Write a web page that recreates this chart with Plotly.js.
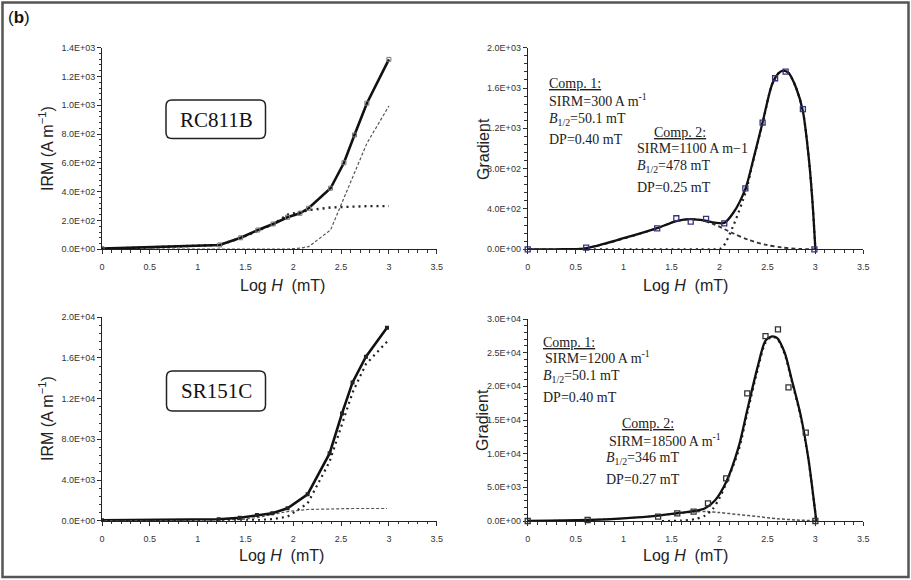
<!DOCTYPE html>
<html>
<head>
<meta charset="utf-8">
<script src="https://cdn.plot.ly/plotly-3.0.1.min.js"></script>
<style>html,body{margin:0;padding:0;background:#fff;}#chart{width:911px;height:580px;}</style>
</head>
<body>
<div id="chart"></div>
<script>
// ---------- DATA ----------
// x ticks (Log H, mT)
const xTickVals = [0, 0.5, 1, 1.5, 2, 2.5, 3, 3.5];
const xTickText = ["0", "0.5", "1", "1.5", "2", "2.5", "3", "3.5"];

// Panel 1: RC811B IRM acquisition
const p1X = [0, 1.23, 1.45, 1.63, 1.79, 1.94, 2.07, 2.16, 2.39, 2.53, 2.64, 2.77, 3.0];
const p1IRM = [5, 30, 80, 134, 176, 222, 250, 285, 424, 601, 794, 1014, 1319];
const p1Comp1 = [3, 30, 78, 130, 175, 240, 262, 272, 290, 295, 298, 300, 300];
const p1Comp2 = [0, 0, 0, 0, 0, 2, 8, 18, 134, 356, 530, 736, 995];
const p1YTickVals = [0, 200, 400, 600, 800, 1000, 1200, 1400];
const p1YTickText = ["0.0E+00", "2.0E+02", "4.0E+02", "6.0E+02", "8.0E+02", "1.0E+03", "1.2E+03", "1.4E+03"];

// Panel 2: RC811B gradient
const p2X = [0, 0.61, 1.35, 1.55, 1.70, 1.86, 2.05, 2.27, 2.45, 2.58, 2.69, 2.87, 2.99];
const p2Grad = [0, 16, 208, 308, 274, 301, 258, 605, 1257, 1697, 1763, 1390, 0];
const p2FitX = [0, 0.3, 0.6, 1.0, 1.35, 1.55, 1.7, 1.85, 1.95, 2.05, 2.15, 2.27, 2.35, 2.45, 2.55, 2.62, 2.665, 2.72, 2.8, 2.87, 2.93, 2.97, 3.0];
const p2Fit = [0, 0, 10, 110, 210, 280, 300, 285, 265, 262, 370, 600, 880, 1260, 1640, 1750, 1772, 1750, 1600, 1370, 920, 470, 0];
const p2C1X = [0, 0.3, 0.6, 1.0, 1.35, 1.55, 1.7, 1.8, 1.95, 2.14, 2.3, 2.49, 2.65, 2.84, 3.0];
const p2C1 = [0, 0, 10, 105, 210, 280, 300, 291, 245, 159, 95, 43, 18, 4, 0];
const p2C2X = [0.5, 1.0, 1.5, 1.8, 1.9, 2.02, 2.14, 2.28, 2.35, 2.45, 2.55, 2.62, 2.665, 2.72, 2.8, 2.87, 2.93, 2.97, 3.0];
const p2C2 = [0, 0, 0, 0, 0, 10, 225, 590, 870, 1250, 1640, 1750, 1772, 1750, 1600, 1370, 920, 470, 0];
const p2YTickVals = [0, 400, 800, 1200, 1600, 2000];
const p2YTickText = ["0.0E+00", "4.0E+02", "8.0E+02", "1.2E+03", "1.6E+03", "2.0E+03"];

// Panel 3: SR151C IRM acquisition
const p3X = [0, 1.22, 1.44, 1.62, 1.78, 1.94, 2.15, 2.38, 2.51, 2.62, 2.76, 2.98];
const p3IRM = [50, 140, 295, 560, 727, 1220, 2594, 6620, 10550, 13600, 16120, 18970];
const p3Comp1 = [0, 30, 100, 300, 600, 900, 1100, 1180, 1195, 1200, 1200, 1200];
const p3Comp2 = [0, 0, 20, 50, 150, 400, 1700, 5800, 9500, 12600, 15400, 17600];
const p3YTickVals = [0, 4000, 8000, 12000, 16000, 20000];
const p3YTickText = ["0.0E+00", "4.0E+03", "8.0E+03", "1.2E+04", "1.6E+04", "2.0E+04"];

// Panel 4: SR151C gradient
const p4X = [0, 0.625, 1.36, 1.56, 1.73, 1.88, 2.07, 2.29, 2.48, 2.61, 2.72, 2.90, 3.0];
const p4Grad = [0, 150, 640, 1140, 1390, 2630, 6340, 18960, 27470, 28460, 19850, 13120, 0];
const p4FitX = [0, 0.625, 1.0, 1.36, 1.56, 1.73, 1.85, 1.95, 2.07, 2.2, 2.29, 2.4, 2.48, 2.54, 2.6, 2.68, 2.75, 2.85, 2.93, 2.98, 3.01];
const p4Fit = [0, 150, 400, 800, 1150, 1450, 1900, 3000, 5800, 11000, 16500, 23000, 26800, 27400, 27200, 25000, 21200, 15500, 9000, 3500, 0];
const p4C1X = [0, 0.625, 1.0, 1.36, 1.56, 1.73, 1.87, 2.0, 2.2, 2.4, 2.6, 2.8, 3.0];
const p4C1 = [0, 150, 400, 780, 1100, 1350, 1400, 1250, 950, 650, 350, 150, 50];
const p4C2X = [1.4, 1.6, 1.75, 1.85, 1.93, 2.0, 2.07, 2.2, 2.29, 2.4, 2.48, 2.54, 2.6, 2.68, 2.75, 2.85, 2.93, 2.98, 3.01];
const p4C2 = [0, 50, 300, 800, 1800, 3400, 5600, 10500, 16000, 22600, 26500, 27300, 27100, 24800, 21000, 15300, 8900, 3400, 0];
const p4YTickVals = [0, 5000, 10000, 15000, 20000, 25000, 30000];
const p4YTickText = ["0.0E+00", "5.0E+03", "1.0E+04", "1.5E+04", "2.0E+04", "2.5E+04", "3.0E+04"];

// ---------- LAYOUT HELPERS ----------
const W = 911, H = 580;
const fx = v => v / W;
const fy = v => 1 - v / H;
const serif = "Liberation Serif, Times New Roman, serif";
const sans = "Liberation Sans, Arial, sans-serif";

function alias(vals, text, fmt) {
  const o = {};
  vals.forEach((v, i) => { o[fmt(v)] = text[i]; });
  return o;
}

function xAxis(domain) {
  return {
    domain: domain, range: [0, 3.5], showline: true, linecolor: '#222', linewidth: 1,
    ticks: 'outside', ticklen: 4, tickcolor: '#222',
    tickmode: 'linear', tick0: xTickVals[0], dtick: xTickVals[1] - xTickVals[0],
    labelalias: alias(xTickVals, xTickText, v => String(v)),
    tickfont: {family: sans, size: 9, color: '#333'}, ticklabelstandoff: 5,
    showgrid: false, zeroline: false, fixedrange: true
  };
}
function yAxis(domain, range, vals, text) {
  return {
    domain: domain, range: range, showline: true, linecolor: '#222', linewidth: 1,
    ticks: 'outside', ticklen: 4, tickcolor: '#222',
    tickmode: 'linear', tick0: vals[0], dtick: vals[1] - vals[0],
    tickformat: 'd', separatethousands: false,
    labelalias: alias(vals, text, v => String(v)),
    tickfont: {family: sans, size: 9, color: '#333'},
    showgrid: false, zeroline: false, fixedrange: true
  };
}
// overlay axes that carry only the minor tick marks
function minorAxis(domain, range, dt, over, anchor) {
  return {
    domain: domain, range: range, overlaying: over, anchor: anchor,
    tickmode: 'linear', tick0: 0, dtick: dt, ticks: 'outside', ticklen: 2.5, tickwidth: 1, tickcolor: '#333',
    showticklabels: false, showline: false, showgrid: false, zeroline: false, fixedrange: true
  };
}

const solid = {color: '#111', width: 2.6};
const traces = [
  // Panel 1
  {x: p1X, y: p1Comp2, xaxis: 'x', yaxis: 'y', mode: 'lines', line: {color: '#555', width: 1.2, dash: '3px,2px'}},
  {x: p1X, y: p1Comp1, xaxis: 'x', yaxis: 'y', mode: 'lines', line: {color: '#222', width: 2.4, dash: '2px,4px'}},
  {x: p1X, y: p1IRM, xaxis: 'x', yaxis: 'y', mode: 'lines+markers', line: solid,
   marker: {symbol: 'square-open', size: 4, color: '#777', line: {width: 1}}},
  // Panel 2
  {x: p2C1X, y: p2C1, xaxis: 'x2', yaxis: 'y2', mode: 'lines', line: {color: '#333', width: 1.8, dash: '4px,3px', shape: 'spline', smoothing: 0.8}},
  {x: p2C2X, y: p2C2, xaxis: 'x2', yaxis: 'y2', mode: 'lines', line: {color: '#222', width: 2.2, dash: '2px,4px', shape: 'spline', smoothing: 0.8}},
  {x: p2FitX, y: p2Fit, xaxis: 'x2', yaxis: 'y2', mode: 'lines', line: {color: '#111', width: 2.3, shape: 'spline', smoothing: 0.8}},
  {x: p2X, y: p2Grad, xaxis: 'x2', yaxis: 'y2', mode: 'markers', cliponaxis: false,
   marker: {symbol: 'square-open', size: 5, color: '#34347a', line: {width: 1.3}}},
  // Panel 3
  {x: p3X, y: p3Comp1, xaxis: 'x3', yaxis: 'y3', mode: 'lines', line: {color: '#555', width: 1.2, dash: '3px,2px'}},
  {x: p3X, y: p3Comp2, xaxis: 'x3', yaxis: 'y3', mode: 'lines', line: {color: '#222', width: 2.2, dash: '2px,4px'}},
  {x: p3X, y: p3IRM, xaxis: 'x3', yaxis: 'y3', mode: 'lines+markers', line: solid,
   marker: {symbol: 'square', size: 4, color: '#222'}},
  // Panel 4
  {x: p4C1X, y: p4C1, xaxis: 'x4', yaxis: 'y4', mode: 'lines', line: {color: '#555', width: 1.5, dash: '3px,2px', shape: 'spline', smoothing: 0.8}},
  {x: p4C2X, y: p4C2, xaxis: 'x4', yaxis: 'y4', mode: 'lines', line: {color: '#222', width: 2.2, dash: '2px,4px', shape: 'spline', smoothing: 0.8}},
  {x: p4FitX, y: p4Fit, xaxis: 'x4', yaxis: 'y4', mode: 'lines', line: {color: '#111', width: 2.3, shape: 'spline', smoothing: 0.8}},
  {x: p4X, y: p4Grad, xaxis: 'x4', yaxis: 'y4', mode: 'markers', cliponaxis: false,
   marker: {symbol: 'square-open', size: 5, color: '#333', line: {width: 1.3}}}
];
// empty traces so the minor-tick overlay axes get drawn
['5', '6', '7', '8'].forEach(n => traces.push({x: [null], y: [null], xaxis: 'x' + n, yaxis: 'y' + n, mode: 'lines', hoverinfo: 'skip'}));

function txt(text, x, y, opts) {
  return Object.assign({
    text: text, xref: 'paper', yref: 'paper', x: fx(x), y: fy(y),
    xanchor: 'left', yanchor: 'middle', showarrow: false,
    font: {family: serif, size: 14, color: '#222'}
  }, opts || {});
}
const B12 = '<i>B</i><sub>1/2</sub>';
const annotations = [
  txt('(<b>b</b>)', 6, 17, {font: {family: sans, size: 17, color: '#111'}}),
  // axis titles
  txt('IRM (A m<sup>−1</sup>)', 46, 149, {xanchor: 'center', textangle: -90, font: {family: sans, size: 16, color: '#222'}}),
  txt('IRM (A m<sup>−1</sup>)', 46, 419, {xanchor: 'center', textangle: -90, font: {family: sans, size: 16, color: '#222'}}),
  txt('Gradient', 483, 149, {xanchor: 'center', textangle: -90, font: {family: sans, size: 16, color: '#222'}}),
  txt('Gradient', 482, 420, {xanchor: 'center', textangle: -90, font: {family: sans, size: 16, color: '#222'}}),
  txt('Log <i>H</i>\u00a0 (mT)', 282, 285, {xanchor: 'center', font: {family: sans, size: 16, color: '#222'}}),
  txt('Log <i>H</i>\u00a0 (mT)', 685, 285, {xanchor: 'center', font: {family: sans, size: 16, color: '#222'}}),
  txt('Log <i>H</i>\u00a0 (mT)', 281, 555, {xanchor: 'center', font: {family: sans, size: 16, color: '#222'}}),
  txt('Log <i>H</i>\u00a0 (mT)', 685, 555, {xanchor: 'center', font: {family: sans, size: 16, color: '#222'}}),
  // sample labels
  txt('RC811B', 216, 119.5, {xanchor: 'center', font: {family: serif, size: 21, color: '#111'}}),
  txt('SR151C', 216, 391, {xanchor: 'center', font: {family: serif, size: 21, color: '#111'}}),
  // panel 2 text
  txt('<u>Comp. 1:</u>', 547, 83),
  txt('SIRM=300 A m<sup>-1</sup>', 547, 100),
  txt(B12 + '=50.1 mT', 547, 119),
  txt('DP=0.40 mT', 547, 139),
  txt('<u>Comp. 2:</u>', 652, 132),
  txt('SIRM=1100 A m−1', 635, 148),
  txt(B12 + '=478 mT', 635, 167),
  txt('DP=0.25 mT', 635, 187),
  // panel 4 text
  txt('<u>Comp. 1:</u>', 541, 342),
  txt('SIRM=1200 A m<sup>-1</sup>', 543, 357),
  txt(B12 + '=50.1 mT', 541, 376),
  txt('DP=0.40 mT', 541, 397),
  txt('<u>Comp. 2:</u>', 620, 423),
  txt('SIRM=18500 A m<sup>-1</sup>', 607, 440),
  txt(B12 + '=346 mT', 604, 458),
  txt('DP=0.27 mT', 604, 479)
];

function roundedRect(x0, y0, x1, y1, r) {
  const P = (x, y) => fx(x) + ',' + fy(y);
  return 'M' + P(x0 + r, y0) + ' L' + P(x1 - r, y0) + ' Q' + P(x1, y0) + ' ' + P(x1, y0 + r) +
    ' L' + P(x1, y1 - r) + ' Q' + P(x1, y1) + ' ' + P(x1 - r, y1) +
    ' L' + P(x0 + r, y1) + ' Q' + P(x0, y1) + ' ' + P(x0, y1 - r) +
    ' L' + P(x0, y0 + r) + ' Q' + P(x0, y0) + ' ' + P(x0 + r, y0) + ' Z';
}

const shapes = [
  {type: 'rect', xref: 'paper', yref: 'paper', x0: fx(2.5), x1: fx(908.5), y0: fy(2.5), y1: fy(577), line: {color: '#555', width: 2.5}},
  {type: 'path', xref: 'paper', yref: 'paper', path: roundedRect(166, 100, 265.5, 138.5, 6), line: {color: '#222', width: 1.5}},
  {type: 'path', xref: 'paper', yref: 'paper', path: roundedRect(166.5, 371, 265.5, 411, 6), line: {color: '#222', width: 1.5}}
];

const dX1 = [fx(102), fx(436.7)], dX2 = [fx(527.7), fx(863.3)];
const dY1 = [fy(249.3), fy(47.7)], dY3 = [fy(520.7), fy(317.3)], dY4 = [fy(521), fy(319)];
const layout = {
  width: W, height: H, margin: {l: 0, r: 0, t: 0, b: 0},
  paper_bgcolor: '#fff', plot_bgcolor: 'rgba(0,0,0,0)', showlegend: false,
  xaxis: Object.assign(xAxis(dX1), {anchor: 'y'}),
  yaxis: Object.assign(yAxis(dY1, [0, 1400], p1YTickVals, p1YTickText), {anchor: 'x'}),
  xaxis2: Object.assign(xAxis(dX2), {anchor: 'y2'}),
  yaxis2: Object.assign(yAxis(dY1, [0, 2000], p2YTickVals, p2YTickText), {anchor: 'x2'}),
  xaxis3: Object.assign(xAxis(dX1), {anchor: 'y3'}),
  yaxis3: Object.assign(yAxis(dY3, [0, 20000], p3YTickVals, p3YTickText), {anchor: 'x3'}),
  xaxis4: Object.assign(xAxis(dX2), {anchor: 'y4'}),
  yaxis4: Object.assign(yAxis(dY4, [0, 30000], p4YTickVals, p4YTickText), {anchor: 'x4'}),
  xaxis5: minorAxis(dX1, [0, 3.5], 0.1, 'x', 'y5'),
  yaxis5: minorAxis(dY1, [0, 1400], 40, 'y', 'x5'),
  xaxis6: minorAxis(dX2, [0, 3.5], 0.1, 'x2', 'y6'),
  yaxis6: minorAxis(dY1, [0, 2000], 80, 'y2', 'x6'),
  xaxis7: minorAxis(dX1, [0, 3.5], 0.1, 'x3', 'y7'),
  yaxis7: minorAxis(dY3, [0, 20000], 800, 'y3', 'x7'),
  xaxis8: minorAxis(dX2, [0, 3.5], 0.1, 'x4', 'y8'),
  yaxis8: minorAxis(dY4, [0, 30000], 1000, 'y4', 'x8'),
  annotations: annotations,
  shapes: shapes
};

Plotly.newPlot('chart', traces, layout, {staticPlot: true, displayModeBar: false});
</script>
</body>
</html>
